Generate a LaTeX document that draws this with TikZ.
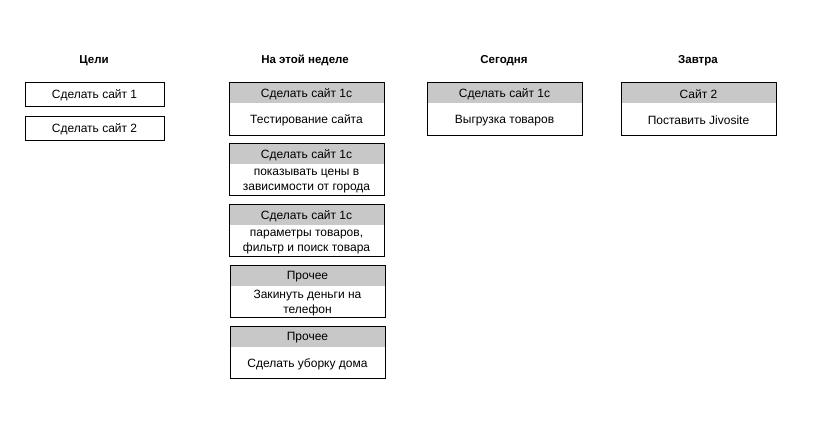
\documentclass[tikz,border=0pt]{standalone}
\usepackage{fontspec}
\setmainfont{Liberation Sans}
\begin{document}
\begin{tikzpicture}[x=1pt,y=-1pt,
  title/.style={font=\fontsize{11.5}{14}\selectfont\bfseries, inner sep=0pt, yshift=-1.5pt},
  txt/.style={inner sep=0pt, align=center, yshift=-1.5pt, font=\fontsize{12}{15}\selectfont},
  outline/.style={draw, line width=1pt}
]
\definecolor{hdrgray}{HTML}{C8C8C8}
\useasboundingbox (0,0) rectangle (829,439);

% titles
\node[title] (t1) at (94,59) {Цели};
\node[title] (t2) at (305,59) {На этой неделе};
\node[title] (t3) at (504,59) {Сегодня};
\node[title] (t4) at (698,59) {Завтра};

% goals
\newcommand{\goalbox}[4]{%
  \draw[outline] (#2,#3) rectangle ++(139,24);
  \node[txt] (#1) at (#2+69.5,#3+12) {#4};
}
\goalbox{g1}{25}{82}{Сделать сайт 1}
\goalbox{g2}{25}{116}{Сделать сайт 2}

% cards
\newcommand{\card}[6]{%
  \fill[hdrgray] (#2,#3) rectangle ++(155,21);
  \draw[outline] (#2,#3) rectangle ++(155,21+#5);
  \node[txt] (#1h) at (#2+77.5,#3+10.5) {#4};
  \node[txt] (#1b) at (#2+77.5,#3+21+#5/2) {#6};
}
\card{w1}{229}{82}{Сделать сайт 1с}{32}{Тестирование сайта}
\card{w2}{229}{143}{Сделать сайт 1с}{31}{показывать цены в\\зависимости от города}
\card{w3}{229}{204}{Сделать сайт 1с}{31}{параметры товаров,\\фильтр и поиск товара}
\card{w4}{230}{265}{Прочее}{31}{Закинуть деньги на\\телефон}
\card{w5}{230}{326}{Прочее}{31}{Сделать уборку дома}
\card{d1}{427}{82}{Сделать сайт 1с}{32}{Выгрузка товаров}
\card{m1}{621}{82}{Сайт 2}{32}{Поставить Jivosite}
\end{tikzpicture}
\end{document}
